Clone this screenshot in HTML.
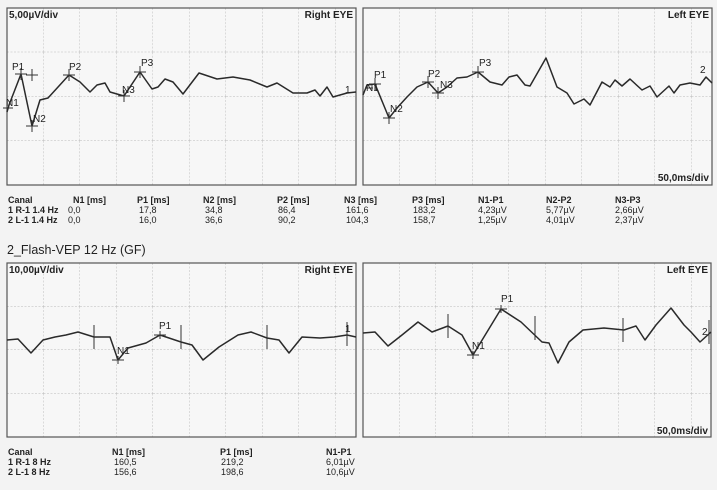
<!DOCTYPE html>
<html><head><meta charset="utf-8"><style>
body{margin:0;background:#f3f3f3;width:717px;height:490px;overflow:hidden;font-family:"Liberation Sans",sans-serif;color:#222}
svg{position:absolute;left:0;top:0}
</style></head><body>
<svg width="717" height="490" viewBox="0 0 717 490" xmlns="http://www.w3.org/2000/svg" font-family="Liberation Sans, sans-serif">
<defs>
<pattern id="g1" x="7" y="8" width="36.5" height="44.25" patternUnits="userSpaceOnUse"><path d="M36.5 0V44.25M0 44.25H36.5" stroke="#b8b8b8" stroke-width="0.9" fill="none" stroke-dasharray="2 1.5"/></pattern>
<pattern id="g2" x="363" y="8" width="36.5" height="44.25" patternUnits="userSpaceOnUse"><path d="M36.5 0V44.25M0 44.25H36.5" stroke="#b8b8b8" stroke-width="0.9" fill="none" stroke-dasharray="2 1.5"/></pattern>
<pattern id="g3" x="7" y="263" width="36.5" height="43.5" patternUnits="userSpaceOnUse"><path d="M36.5 0V43.5M0 43.5H36.5" stroke="#b8b8b8" stroke-width="0.9" fill="none" stroke-dasharray="2 1.5"/></pattern>
<pattern id="g4" x="363" y="263" width="36.5" height="43.5" patternUnits="userSpaceOnUse"><path d="M36.5 0V43.5M0 43.5H36.5" stroke="#b8b8b8" stroke-width="0.9" fill="none" stroke-dasharray="2 1.5"/></pattern>
</defs>
<rect x="7" y="8" width="349" height="177" fill="#f7f7f7"/><rect x="7" y="8" width="349" height="177" fill="url(#g1)" stroke="#555" stroke-width="1.2"/>
<rect x="363" y="8" width="349" height="177" fill="#f7f7f7"/><rect x="363" y="8" width="349" height="177" fill="url(#g2)" stroke="#555" stroke-width="1.2"/>
<rect x="7" y="263" width="349" height="174" fill="#f7f7f7"/><rect x="7" y="263" width="349" height="174" fill="url(#g3)" stroke="#555" stroke-width="1.2"/>
<rect x="363" y="263" width="348" height="174" fill="#f7f7f7"/><rect x="363" y="263" width="348" height="174" fill="url(#g4)" stroke="#555" stroke-width="1.2"/>

<g fill="none" stroke="#2a2a2a" stroke-width="1.5" stroke-linejoin="round">
<polyline points="7,112 9,105 21,74 32,126 40,100 48,98 69,75 80,82 90,92 97,85 105,83 110,92 124,96 140,72 152,89 158,87 165,79 173,82 183,94 199,73 217,79 233,77 250,80 267,87 277,83 293,93 307,93 315,90 320,96 327,87 333,97 347,93 356,92"/>
<polyline points="363,95 367,85 375,84 389,118 397,108 407,97 417,87 428,82 438,93 447,87 457,78 467,77 478,72 490,82 502,85 509,77 517,75 525,85 530,86 546,58 557,87 567,93 574,104 584,99 590,105 602,82 610,87 615,80 622,86 630,79 642,90 650,86 657,97 669,86 674,93 680,85 690,83 700,85 706,77 712,83"/>
<polyline points="7,340 18,339 31,353 43,340 55,337 66,335 78,332 94,337 110,337 118,360 128,348 146,343 160,335 181,342 192,345 203,360 219,347 238,335 251,332 267,338 279,340 289,353 302,337 320,338 334,337 347,335 356,337"/>
<polyline points="363,333 375,332 388,346 402,335 418,322 432,332 448,326 462,335 473,355 501,309 521,322 542,342 549,343 558,363 569,342 583,330 604,328 624,330 636,326 645,340 656,325 671,308 684,325 691,332 700,342 711,332"/>
</g>
<g stroke="#333" stroke-width="1">
<path d="M15,74h12M21,68v12M26,75h12M32,69v12 M26,126h12M32,120v12 M63,75h12M69,69v12 M118,96h12M124,90v12 M134,72h12M140,66v12 M3,108h10 M369,84h12M375,78v12 M383,118h12M389,112v12 M422,82h12M428,76v12 M432,93h12M438,87v12 M472,72h12M478,66v12 M365,88h8"/>
<path d="M94,325v24M181,325v24M267,325v24M347,322v24M112,360h12M118,356v8M154,335h12M160,331v8 M448,314v24M535,316v24M623,318v24M709,320v24 M467,355h12M473,351v8M495,309h12M501,305v8"/>
</g>
<g font-size="10" fill="#222">
<text x="12" y="70">P1</text><text x="6" y="106">N1</text><text x="33" y="122">N2</text><text x="69" y="70">P2</text><text x="122" y="93">N3</text><text x="141" y="66">P3</text><text x="345" y="93">1</text>
<text x="374" y="78">P1</text><text x="366" y="91">N1</text><text x="390" y="112">N2</text><text x="428" y="77">P2</text><text x="440" y="88">N3</text><text x="479" y="66">P3</text><text x="700" y="73">2</text>
<text x="117" y="354">N1</text><text x="159" y="329">P1</text><text x="345" y="332">1</text>
<text x="472" y="349">N1</text><text x="501" y="302">P1</text><text x="702" y="335">2</text>
</g>
<g font-size="10" font-weight="bold" fill="#222">
<text x="9" y="18">5,00µV/div</text><text x="353" y="18" text-anchor="end">Right EYE</text>
<text x="709" y="18" text-anchor="end">Left EYE</text><text x="709" y="181" text-anchor="end">50,0ms/div</text>
<text x="9" y="273">10,00µV/div</text><text x="353" y="273" text-anchor="end">Right EYE</text>
<text x="708" y="273" text-anchor="end">Left EYE</text><text x="708" y="434" text-anchor="end">50,0ms/div</text>
</g>
<g font-size="9" fill="#222">
<g font-weight="bold"><text x="8" y="203">Canal</text><text x="73" y="203">N1 [ms]</text><text x="137" y="203">P1 [ms]</text><text x="203" y="203">N2 [ms]</text><text x="277" y="203">P2 [ms]</text><text x="344" y="203">N3 [ms]</text><text x="412" y="203">P3 [ms]</text><text x="478" y="203">N1-P1</text><text x="546" y="203">N2-P2</text><text x="615" y="203">N3-P3</text>
<text x="8" y="213">1 R-1 1.4 Hz</text><text x="8" y="223">2 L-1 1.4 Hz</text></g>
<text x="68" y="213">0,0</text><text x="139" y="213">17,8</text><text x="205" y="213">34,8</text><text x="278" y="213">86,4</text><text x="346" y="213">161,6</text><text x="413" y="213">183,2</text><text x="478" y="213">4,23µV</text><text x="546" y="213">5,77µV</text><text x="615" y="213">2,66µV</text>
<text x="68" y="223">0,0</text><text x="139" y="223">16,0</text><text x="205" y="223">36,6</text><text x="278" y="223">90,2</text><text x="346" y="223">104,3</text><text x="413" y="223">158,7</text><text x="478" y="223">1,25µV</text><text x="546" y="223">4,01µV</text><text x="615" y="223">2,37µV</text>
<g font-weight="bold"><text x="8" y="455">Canal</text><text x="112" y="455">N1 [ms]</text><text x="220" y="455">P1 [ms]</text><text x="326" y="455">N1-P1</text>
<text x="8" y="465">1 R-1 8 Hz</text><text x="8" y="475">2 L-1 8 Hz</text></g>
<text x="114" y="465">160,5</text><text x="221" y="465">219,2</text><text x="326" y="465">6,01µV</text>
<text x="114" y="475">156,6</text><text x="221" y="475">198,6</text><text x="326" y="475">10,6µV</text>
</g>
<text x="7" y="254" font-size="12.5" fill="#222">2_Flash-VEP 12 Hz (GF)</text>
</svg>
</body></html>
